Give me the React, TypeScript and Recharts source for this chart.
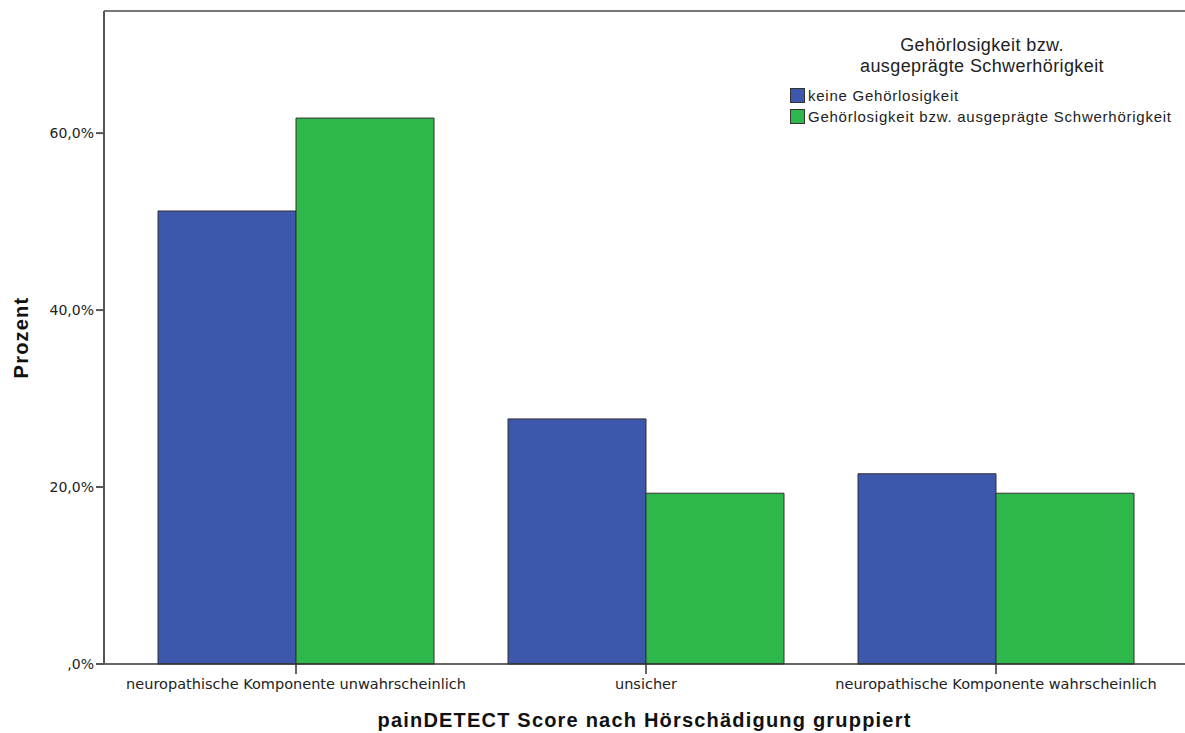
import { Bar, BarChart, ReferenceLine, XAxis, YAxis } from 'recharts';

const categories = [
  'neuropathische Komponente unwahrscheinlich',
  'unsicher',
  'neuropathische Komponente wahrscheinlich',
];
const keineValues = [51.2, 27.7, 21.5];
const gehoerlosValues = [61.7, 19.3, 19.3];
const yTicks = [0, 20, 40, 60];
const legendTitle = ['Gehörlosigkeit bzw.', 'ausgeprägte Schwerhörigkeit'];

const SERIES = [
  { key: 'keine', label: 'keine Gehörlosigkeit', color: '#3c57ab' },
  { key: 'gehoerlos', label: 'Gehörlosigkeit bzw. ausgeprägte Schwerhörigkeit', color: '#2eb84b' },
];

const data = categories.map((c, i) => ({
  name: c,
  keine: keineValues[i],
  gehoerlos: gehoerlosValues[i],
}));

const Y_MAX = 73.8;
const TICK_FONT = '"DejaVu Sans", Verdana, sans-serif';
const FONT = '"Liberation Sans", Arial, sans-serif';

const fmtPct = (v: number) => (v === 0 ? ',0%' : `${v.toFixed(1).replace('.', ',')}%`);

// legend drawn as an overlay so it doesn't eat into the plot area
function LegendBox() {
  return (
    <div style={{ position: 'absolute', left: 790, top: 35, fontFamily: FONT, color: '#222' }}>
      <div style={{ fontSize: 18, letterSpacing: 0.4, textAlign: 'center', lineHeight: '21px', width: 384 }}>
        {legendTitle[0]}
        <br />
        {legendTitle[1]}
      </div>
      <div style={{ marginTop: 8 }}>
        {SERIES.map((s) => (
          <div
            key={s.key}
            style={{
              display: 'flex',
              alignItems: 'center',
              height: 21,
              fontSize: 15,
              letterSpacing: 0.75,
              whiteSpace: 'nowrap',
            }}
          >
            <span
              style={{
                width: 13,
                height: 13,
                background: s.color,
                border: '1px solid #333',
                marginRight: 3,
                display: 'inline-block',
              }}
            />
            {s.label}
          </div>
        ))}
      </div>
    </div>
  );
}

export default function App() {
  return (
    <div style={{ position: 'relative', width: 1185, height: 733 }}>
      <style>{'body{margin:0}'}</style>
      <BarChart
        width={1185}
        height={733}
        data={data}
        margin={{ top: 11, right: 0, bottom: 39, left: 24 }}
        barGap={0}
        barCategoryGap={37}
      >
        <XAxis
          dataKey="name"
          padding={{ left: 17, right: 14 }}
          stroke="#333"
          strokeWidth={1.5}
          tickSize={10}
          tickMargin={5}
          height={30}
          tick={{ fill: '#222', fontSize: 14.5, fontFamily: TICK_FONT }}
          label={({ viewBox }: any) => (
            <text
              x={viewBox.x + viewBox.width / 2}
              y={727}
              textAnchor="middle"
              fontFamily={FONT}
              fontWeight="bold"
              fontSize={20}
              letterSpacing={1.2}
              fill="#111"
            >
              painDETECT Score nach Hörschädigung gruppiert
            </text>
          )}
        />
        <YAxis
          width={80}
          domain={[0, Y_MAX]}
          ticks={yTicks}
          tickFormatter={fmtPct}
          stroke="#555"
          strokeWidth={2}
          tickSize={8}
          tickMargin={2}
          tick={{ fill: '#222', fontSize: 14, fontFamily: TICK_FONT }}
          label={({ viewBox }: any) => {
            const cy = viewBox.y + viewBox.height / 2;
            return (
              <text
                x={28}
                y={cy}
                transform={`rotate(-90 28 ${cy})`}
                textAnchor="middle"
                fontFamily={FONT}
                fontWeight="bold"
                fontSize={20}
                letterSpacing={1.2}
                fill="#111"
              >
                Prozent
              </text>
            );
          }}
        />
        <ReferenceLine y={Y_MAX} stroke="#777" strokeWidth={2} />
        {SERIES.map((s) => (
          <Bar
            key={s.key}
            dataKey={s.key}
            name={s.label}
            fill={s.color}
            stroke="#333"
            strokeWidth={1}
            isAnimationActive={false}
          />
        ))}
      </BarChart>
      <LegendBox />
    </div>
  );
}
